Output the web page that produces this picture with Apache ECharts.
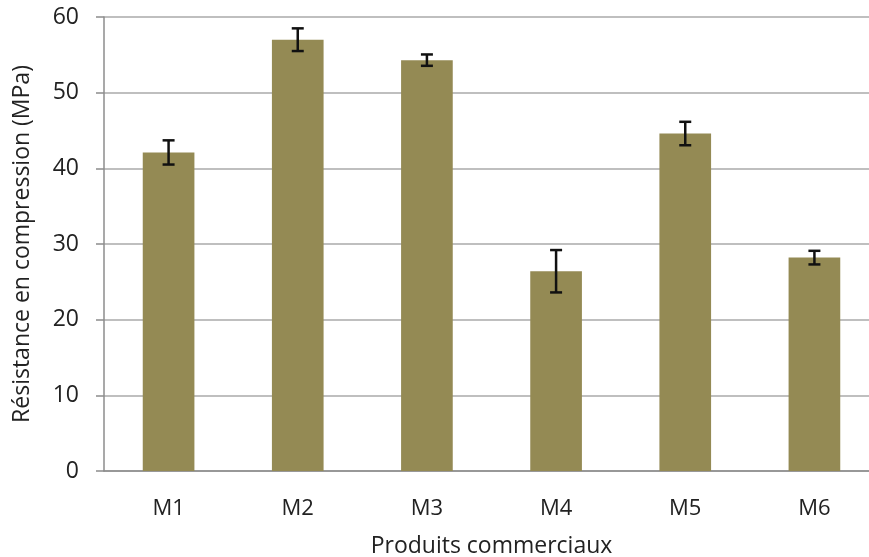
<!DOCTYPE html>
<html><head><meta charset="utf-8">
<script src="https://cdn.jsdelivr.net/npm/echarts@6/dist/echarts.min.js"></script>
<style>html,body{margin:0;padding:0;background:#fff}#c{width:869px;height:557px}</style>
</head><body><div id="c"></div>
<script>
const categories = ['M1','M2','M3','M4','M5','M6'];
const values = [42.1, 57.0, 54.3, 26.4, 44.6, 28.2];
const errors = [1.6, 1.5, 0.75, 2.8, 1.55, 0.9];
const yTicks = [0,10,20,30,40,50,60];

const errData = categories.map((c,i)=>[i, values[i]-errors[i], values[i]+errors[i]]);
const font = 'Open Sans, Liberation Sans, sans-serif';
const chart = echarts.init(document.getElementById('c'));
chart.setOption({
  animation:false,
  grid:{left:104, right:-10, top:17, bottom:86, outerBoundsMode:'none', containLabel:false},
  xAxis:{type:'category', data:categories,
    axisLine:{lineStyle:{color:'#8c8c8c', width:1.5}}, axisTick:{show:false},
    axisLabel:{color:'#222', fontSize:22, fontFamily:font, margin:27},
    name:'Produits commerciaux', nameLocation:'middle', nameGap:64,
    nameTextStyle:{color:'#222', fontSize:23, fontFamily:font}},
  yAxis:{type:'value', min:yTicks[0], max:yTicks[yTicks.length-1], interval:10,
    axisLine:{show:true, lineStyle:{color:'#8c8c8c', width:1.5}},
    axisTick:{show:true, length:8, lineStyle:{color:'#8c8c8c', width:1.5}},
    splitLine:{lineStyle:{color:'#aaaaaa', width:1.5}},
    axisLabel:{color:'#222', fontSize:23, fontFamily:font, margin:25},
    name:'Résistance en compression (MPa)', nameLocation:'middle', nameGap:70,
    nameTextStyle:{color:'#222', fontSize:23, fontFamily:font}},
  series:[
    {type:'bar', data:values, barWidth:'40%', itemStyle:{color:'#948a54'}},
    {type:'custom', data:errData, z:10,
     renderItem:function(params, api){
       const x = api.value(0);
       const lo = api.coord([x, api.value(1)]);
       const hi = api.coord([x, api.value(2)]);
       const w = 6;
       const st = {stroke:'#111', lineWidth:2.5};
       return {type:'group', children:[
         {type:'line', shape:{x1:lo[0],y1:lo[1],x2:hi[0],y2:hi[1]}, style:st},
         {type:'line', shape:{x1:lo[0]-w,y1:lo[1],x2:lo[0]+w,y2:lo[1]}, style:st},
         {type:'line', shape:{x1:hi[0]-w,y1:hi[1],x2:hi[0]+w,y2:hi[1]}, style:st}
       ]};
     }}
  ]
});
</script></body></html>
